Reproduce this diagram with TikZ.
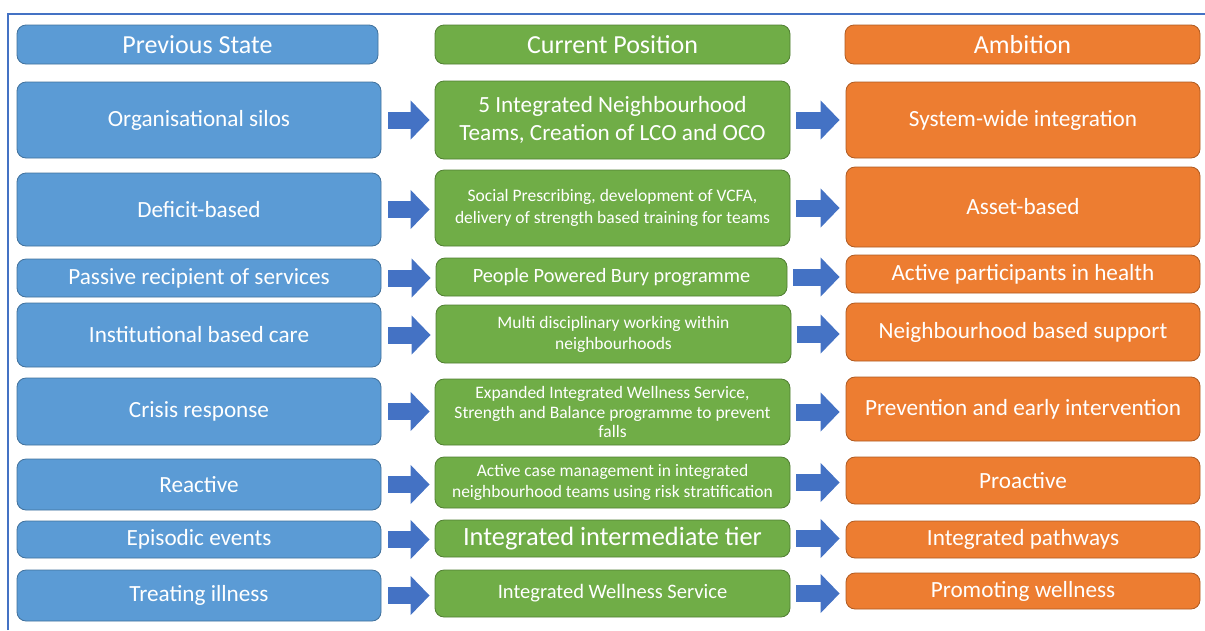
\documentclass[tikz,border=0pt]{standalone}
\usepackage{fontspec}
\setmainfont{Carlito}
\usepackage{tikz}
\usetikzlibrary{arrows.meta}
\usetikzlibrary{positioning}
\usetikzlibrary{calc}
\definecolor{prevblue}{HTML}{5B9BD5}
\definecolor{prevline}{HTML}{41719C}
\definecolor{curgreen}{HTML}{70AD47}
\definecolor{curline}{HTML}{507E32}
\definecolor{ambiorange}{HTML}{ED7D31}
\definecolor{ambiline}{HTML}{AE5A21}
\definecolor{arrowblue}{HTML}{4472C4}
\tikzset{bigarrow/.style={-{Triangle[length=19pt,width=38pt]},line width=17pt,draw=arrowblue}}

\begin{document}
\begin{tikzpicture}[x=1pt,y=-1pt,
		box/.style={rectangle,rounded corners=9pt,text=white,align=center,inner sep=2pt,line width=0.8pt},
		prev/.style={box,fill=prevblue,draw=prevline,minimum width=364pt},
		cur/.style={box,fill=curgreen,draw=curline,minimum width=355pt},
		ambi/.style={box,fill=ambiorange,draw=ambiline,minimum width=354pt},
		hdr/.style={font=\fontsize{26}{30}\selectfont,minimum height=39pt},
		big/.style={font=\fontsize{23.2}{28}\selectfont},
		small/.style={font=\fontsize{17.5}{21}\selectfont},
		toleft/.style={bigarrow,shorten <=7pt,shorten >=5pt},
		toright/.style={bigarrow,shorten <=6pt,shorten >=6pt}]
		\useasboundingbox (0,0) rectangle (1205,630);
		\draw[arrowblue,line width=1.5pt] (8,630) -- (8,14) -- (1205,14);
		
		\node[prev,hdr,minimum width=361pt] (ph) at (197.5,44.5) {Previous State};
		\node[cur,hdr]                      (ch) at (612.5,44.5) {Current Position};
		\node[ambi,hdr,minimum width=355pt] (ah) at (1022.5,44.5) {Ambition};
		
		\node[prev,big,minimum height=76pt] (p1) at (199,120)   {Organisational silos};
		\node[prev,big,minimum height=73pt] (p2) at (199,209.5) {Deficit-based};
		\node[prev,big,minimum height=38pt] (p3) at (199,278)   {Passive recipient of services};
		\node[prev,big,minimum height=64pt] (p4) at (199,335)   {Institutional based care};
		\node[prev,big,minimum height=67pt] (p5) at (199,411.5) {Crisis response};
		\node[prev,big,minimum height=51pt] (p6) at (199,484.5) {Reactive};
		\node[prev,big,minimum height=37pt] (p7) at (199,539.5) {Episodic events};
		\node[prev,big,minimum height=51pt] (p8) at (199,595.5) {Treating illness};
		
		\node[cur,big,minimum height=78pt] (c1) at (612.5,120)
			{5 Integrated Neighbourhood\\Teams, Creation of LCO and OCO};
		\node[cur,font=\fontsize{17.5}{22}\selectfont,minimum height=76pt] (c2) at (612.5,208)
			{Social Prescribing, development of VCFA,\\delivery of strength based training for teams};
		\node[cur,font=\fontsize{20.3}{24}\selectfont,minimum width=351pt,minimum height=38pt] (c3) at (611.5,277)
			{People Powered Bury programme};
		\node[cur,small,minimum height=58pt] (c4) at (613.5,334)
			{Multi disciplinary working within\\neighbourhoods};
		\node[cur,font=\fontsize{17.5}{19.5}\selectfont,minimum height=66pt] (c5) at (612.5,412)
			{Expanded Integrated Wellness Service,\\Strength and Balance programme to prevent\\falls};
		\node[cur,small,minimum height=51pt] (c6) at (612.5,482.5)
			{Active case management in integrated\\neighbourhood teams using risk stratification};
		\node[cur,font=\fontsize{26.4}{30}\selectfont,minimum height=37pt] (c7) at (612.5,538.5)
			{Integrated intermediate tier};
		\node[cur,font=\fontsize{20.5}{24}\selectfont,minimum height=47pt] (c8) at (612.5,593.5)
			{Integrated Wellness Service};
		
		\node[ambi,big,minimum height=76pt] (a1) at (1023,120)   {System-wide integration};
		\node[ambi,big,minimum height=80pt] (a2) at (1023,207)   {Asset-based};
		\node[ambi,big,minimum height=38pt] (a3) at (1023,274)   {Active participants in health};
		\node[ambi,big,minimum height=58pt] (a4) at (1023,332)   {Neighbourhood based support};
		\node[ambi,big,minimum height=64pt] (a5) at (1023,409)   {Prevention and early intervention};
		\node[ambi,big,minimum height=47pt] (a6) at (1023,480.5) {Proactive};
		\node[ambi,big,minimum height=37pt] (a7) at (1023,539.5) {Integrated pathways};
		\node[ambi,big,minimum height=36pt] (a8) at (1023,591)   {Promoting wellness};
		
		\draw[toleft] (p1.east) -- (p1.east -| c1.west);
		\draw[toleft] (p2.east) -- (p2.east -| c2.west);
		\draw[toleft] (p3.east) -- (p3.east -| c3.west);
		\draw[toleft] (p4.east) -- (p4.east -| c4.west);
		\draw[toleft] (p5.east) -- (p5.east -| c5.west);
		\draw[toleft] (p6.east) -- (p6.east -| c6.west);
		\draw[toleft] (p7.east) -- (p7.east -| c7.west);
		\draw[toleft] (p8.east) -- (p8.east -| c8.west);
		
		\draw[toright] (c1.east) -- (c1.east -| a1.west);
		\draw[toright] (c2.east) -- (c2.east -| a2.west);
		\draw[toright] (c3.east) -- (c3.east -| a3.west);
		\draw[toright] (c4.east) -- (c4.east -| a4.west);
		\draw[toright] (c5.east) -- (c5.east -| a5.west);
		\draw[toright] (c6.east) -- (c6.east -| a6.west);
		\draw[toright] (c7.east) -- (c7.east -| a7.west);
		\draw[toright] (c8.east) -- (c8.east -| a8.west);
\end{tikzpicture}
\end{document}
